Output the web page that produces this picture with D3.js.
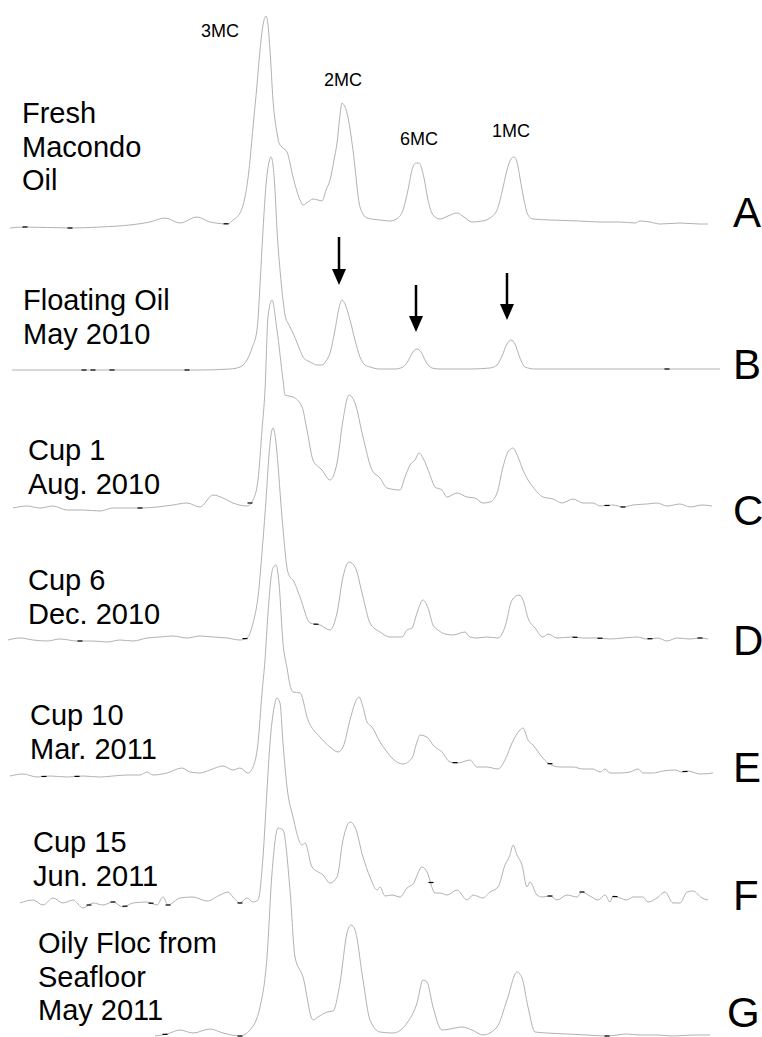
<!DOCTYPE html>
<html>
<head>
<meta charset="utf-8">
<script src="https://cdn.jsdelivr.net/npm/d3@7"></script>
<style>
  html, body { margin: 0; padding: 0; background: #fff; }
  svg { display: block; }
  text { font-family: "Liberation Sans", Arial, sans-serif; fill: #000; }
</style>
</head>
<body>
<script>
// ---------------- DATA ----------------
// x: scan position, y: abundance (arbitrary units; 3MC ≈ 205–213)
const categories = ["A", "B", "C", "D", "E", "F", "G"];
const sampleLabels = [
  ["Fresh", "Macondo", "Oil"],
  ["Floating Oil", "May 2010"],
  ["Cup 1", "Aug. 2010"],
  ["Cup 6", "Dec. 2010"],
  ["Cup 10", "Mar. 2011"],
  ["Cup 15", "Jun. 2011"],
  ["Oily Floc from", "Seafloor", "May 2011"]
];
const peakNames = ["3MC", "2MC", "6MC", "1MC"];
const peakLabelX = [220, 343, 419, 511];
const peakLabelLevel = [188, 139, 80, 88];     // label baseline level on trace A
const arrowX = [339, 416, 507];                 // arrows over trace B
const arrowTipLevel = [85, 38, 50];
const arrowLength = [48, 47, 47];

const traceA = [[10,-3],[25,-2],[70,-3],[100,-2],[130,0],[150,3],[165,7],[180,2],[197,8],[210,3],[228,1],[233,5],[240,12],[245,28],[249,55],[253,98],[257,140],[260,175],[263,200],[266,209],[268,200],[270,175],[273,125],[277,92],[279,82],[283,77],[287,73],[293,48],[300,25],[303,20],[308,23],[313,26],[318,25],[322,24],[326,35],[330,45],[334,65],[337,82],[340,110],[342,122],[344,120],[347,112],[353,75],[360,18],[367,7],[380,5],[390,4],[398,7],[403,15],[408,35],[412,55],[416,62],[419,62],[424,47],[428,25],[433,10],[440,6],[448,9],[457,12],[464,8],[472,3],[482,4],[490,7],[497,15],[502,33],[507,55],[511,66],[514,68],[517,63],[520,47],[524,25],[528,10],[533,6],[550,5],[580,4],[600,3],[620,3],[635,2],[640,4],[650,3],[660,1],[680,2],[700,1],[708,1]];
const traceB = [[12,0],[60,0],[100,0],[150,0],[200,0],[230,1],[240,3],[247,10],[252,22],[257,40],[260,85],[263,140],[266,185],[269,208],[271,213],[273,205],[275,180],[277,140],[280,100],[283,70],[285,55],[289,45],[293,37],[298,25],[303,13],[308,9],[312,7],[317,5],[322,5],[326,9],[330,17],[335,40],[339,62],[342,70],[345,66],[350,50],[355,30],[360,13],[365,5],[370,3],[380,1],[395,1],[403,3],[408,9],[413,18],[417,21],[421,18],[426,8],[432,2],[440,1],[470,1],[490,2],[497,5],[502,14],[507,26],[511,30],[515,26],[520,12],[525,3],[535,1],[600,1],[660,1],[720,1]];
const traceC = [[13,-1],[27,1],[40,-1],[53,1],[67,-3],[83,-3],[100,-4],[113,-1],[127,-1],[140,-1],[157,0],[173,2],[187,4],[200,0],[213,12],[223,9],[233,4],[247,1],[253,7],[258,27],[262,77],[265,117],[268,190],[272,207],[277,177],[283,127],[285,112],[293,110],[302,100],[307,77],[313,47],[322,37],[330,27],[337,44],[343,87],[349,112],[355,104],[363,70],[372,37],[380,29],[387,19],[400,17],[405,30],[410,42],[415,47],[419,54],[423,49],[430,32],[435,20],[442,17],[447,10],[457,14],[467,10],[475,9],[483,4],[490,5],[497,14],[503,40],[508,55],[513,59],[518,50],[523,37],[528,27],[533,20],[543,10],[553,8],[562,4],[573,8],[583,4],[593,4],[600,1],[613,2],[623,0],[633,2],[647,3],[657,4],[667,1],[680,3],[690,0],[702,2],[712,1]];
const traceD = [[8,0],[20,2],[33,0],[47,-1],[60,1],[77,-1],[93,-1],[107,-2],[120,0],[133,-1],[147,2],[160,3],[173,4],[187,2],[200,4],[213,3],[227,2],[240,0],[247,2],[253,17],[258,43],[263,100],[266,140],[269,185],[271,205],[273,212],[275,205],[278,175],[281,135],[284,100],[287,72],[290,63],[293,60],[300,43],[310,17],[315,16],[320,15],[330,10],[337,27],[343,63],[349,78],[355,73],[363,43],[370,17],[380,8],[390,3],[402,3],[407,10],[412,12],[417,27],[423,40],[428,32],[433,15],[438,10],[445,6],[453,5],[465,8],[470,3],[477,2],[487,3],[498,2],[505,13],[512,40],[519,45],[523,40],[528,22],[535,12],[543,3],[548,6],[557,2],[572,3],[583,2],[597,2],[610,1],[623,2],[637,3],[647,1],[658,2],[667,-1],[677,2],[690,1],[700,2],[708,1]];
const traceE = [[10,-3],[23,-1],[37,-4],[50,-3],[67,-4],[83,-3],[100,-4],[113,-3],[127,-2],[140,-2],[147,1],[153,-2],[167,0],[182,5],[190,1],[200,0],[210,3],[223,7],[233,3],[240,5],[248,0],[253,6],[258,30],[262,80],[265,113],[268,160],[271,195],[273,205],[276,208],[279,190],[283,130],[287,105],[290,88],[293,81],[300,80],[308,53],[320,36],[330,26],[338,21],[343,26],[350,53],[355,70],[359,76],[363,66],[367,51],[372,46],[380,31],[387,21],[393,14],[403,9],[412,15],[417,31],[420,38],[428,35],[433,28],[442,21],[450,11],[458,10],[470,13],[477,6],[487,6],[498,4],[505,13],[512,30],[520,43],[523,45],[528,33],[533,28],[542,16],[548,10],[560,6],[573,6],[583,4],[593,4],[600,1],[605,4],[610,0],[620,0],[630,1],[638,4],[643,0],[653,0],[663,2],[675,3],[682,1],[688,2],[700,-1],[713,0]];
const traceF = [[20,0],[33,3],[43,-2],[53,5],[63,0],[73,3],[83,-5],[93,0],[103,-2],[113,1],[123,-4],[133,0],[147,1],[157,-2],[163,6],[168,-2],[180,5],[193,6],[207,2],[220,8],[228,11],[233,6],[240,0],[247,5],[253,1],[258,3],[263,46],[267,113],[270,160],[274,195],[277,205],[280,200],[283,160],[287,116],[293,86],[302,58],[305,60],[312,36],[323,28],[330,20],[337,26],[343,63],[350,81],[355,76],[363,46],[370,26],[377,13],[380,16],[385,7],[392,8],[400,6],[407,15],[413,19],[422,36],[427,31],[435,10],[440,10],[447,8],[457,13],[467,3],[473,8],[483,5],[490,11],[498,16],[505,38],[510,48],[513,58],[517,48],[522,38],[527,16],[530,21],[537,8],[542,6],[550,7],[557,3],[567,8],[577,6],[582,11],[590,7],[598,3],[605,8],[610,1],[613,7],[620,5],[627,3],[633,6],[643,6],[648,1],[657,5],[665,11],[673,0],[680,0],[687,11],[693,12],[702,5],[708,3]];
const traceG = [[155,-2],[167,0],[180,4],[193,1],[210,5],[223,1],[240,-2],[250,4],[260,27],[267,77],[272,161],[278,206],[283,204],[290,144],[295,77],[303,57],[313,14],[318,17],[327,22],[333,23],[340,51],[347,101],[351,109],[355,104],[363,54],[370,14],[380,2],[393,1],[407,11],[417,31],[423,54],[427,52],[433,27],[442,4],[450,5],[462,7],[472,4],[483,-1],[497,7],[507,34],[517,62],[522,56],[528,27],[535,2],[547,1],[567,0],[587,-1],[607,-2],[627,0],[640,-1],[657,-1],[673,-2],[693,-1],[710,-1]];
const traces = [traceA, traceB, traceC, traceD, traceE, traceF, traceG];

// small black tick marks that sit on the traces
const marksA = [25, 70, 226];
const marksB = [84, 93, 112, 187, 667];
const marksC = [140, 250, 607, 623];
const marksD = [80, 245, 316, 575, 600, 650, 700];
const marksE = [44, 77, 455, 550, 685];
const marksF = [89, 113, 125, 151, 168, 240, 431, 550, 582, 615];
const marksG = [165, 240, 607];
const marks = [marksA, marksB, marksC, marksD, marksE, marksF, marksG];

// ---------------- LAYOUT ----------------
const W = 762, H = 1037;
const rowBaseline = [225, 370, 507, 640, 773, 903, 1034];
const labelX = [22, 23, 28, 28, 30, 33, 38];
const labelFirstBaseline = [123, 310, 460, 590, 725, 852, 953];
const labelLineGap = 33.5;
const letterX = [733, 733, 733, 733, 733, 733, 727];
const letterBaseline = [227, 379, 525, 655, 782, 910, 1027];

const svg = d3.select("body").append("svg")
  .attr("width", W).attr("height", H)
  .attr("viewBox", `0 0 ${W} ${H}`);

const x = d3.scaleLinear().domain([0, W]).range([0, W]);
const yScales = rowBaseline.map(b => d3.scaleLinear().domain([0, 200]).range([b, b - 200]));

function valueAt(tr, xv) {
  for (let i = 1; i < tr.length; i++) {
    if (xv <= tr[i][0]) {
      const [x0, y0] = tr[i - 1], [x1, y1] = tr[i];
      const t = (xv - x0) / (x1 - x0);
      return y0 + t * (y1 - y0);
    }
  }
  return tr[tr.length - 1][1];
}

traces.forEach((tr, i) => {
  const y = yScales[i];
  const line = d3.line().x(d => x(d[0])).y(d => y(d[1])).curve(d3.curveMonotoneX);
  svg.append("path")
    .datum(tr)
    .attr("d", line)
    .attr("fill", "none")
    .attr("stroke", "#b2b2b2")
    .attr("stroke-width", 1);

  svg.append("g").selectAll("line")
    .data(marks[i])
    .join("line")
    .attr("x1", d => x(d) - 2.5)
    .attr("x2", d => x(d) + 2.5)
    .attr("y1", d => y(valueAt(tr, d)))
    .attr("y2", d => y(valueAt(tr, d)))
    .attr("stroke", "#000")
    .attr("stroke-width", 1.2);

  // sample label (left)
  const t = svg.append("text")
    .attr("x", labelX[i])
    .attr("y", labelFirstBaseline[i])
    .attr("font-size", 29);
  sampleLabels[i].forEach((s, k) => {
    t.append("tspan").attr("x", labelX[i]).attr("dy", k === 0 ? 0 : labelLineGap).text(s);
  });

  // panel letter (right)
  svg.append("text")
    .attr("x", letterX[i])
    .attr("y", letterBaseline[i])
    .attr("font-size", 42)
    .text(categories[i]);
});

// peak labels on trace A
svg.append("g").selectAll("text")
  .data(peakNames)
  .join("text")
  .attr("x", (d, i) => x(peakLabelX[i]))
  .attr("y", (d, i) => yScales[0](peakLabelLevel[i]))
  .attr("text-anchor", "middle")
  .attr("font-size", 18)
  .text(d => d);

// arrows over trace B
const yB = yScales[1];
const headLen = 16, headHalf = 7;
arrowX.forEach((ax, i) => {
  const tipY = yB(arrowTipLevel[i]);
  const topY = tipY - arrowLength[i];
  const cx = x(ax);
  svg.append("line")
    .attr("x1", cx).attr("x2", cx)
    .attr("y1", topY).attr("y2", tipY - headLen + 2)
    .attr("stroke", "#000").attr("stroke-width", 2.5);
  svg.append("path")
    .attr("d", `M${cx - headHalf},${tipY - headLen} L${cx + headHalf},${tipY - headLen} L${cx},${tipY} Z`)
    .attr("fill", "#000");
});
</script>
</body>
</html>
